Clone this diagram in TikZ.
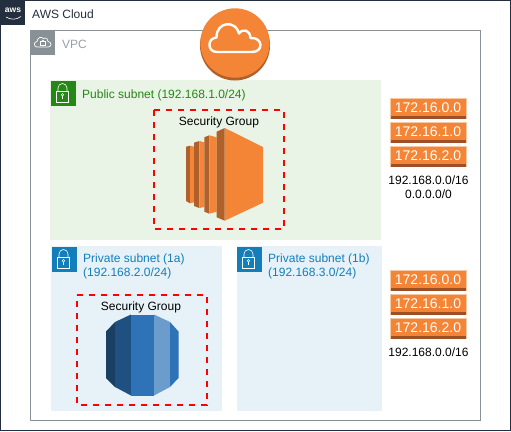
\documentclass[tikz,border=0pt]{standalone}
\usepackage{fontspec}
\setmainfont{Liberation Sans}
\definecolor{awsdark}{HTML}{232F3E}
\definecolor{vpcgrey}{HTML}{879196}
\definecolor{pubgreen}{HTML}{248814}
\definecolor{pubfill}{HTML}{E9F3E6}
\definecolor{privblue}{HTML}{147EBA}
\definecolor{privfill}{HTML}{E6F2F8}
\definecolor{orangeM}{HTML}{F58536}
\definecolor{orangeD}{HTML}{9D5025}
\definecolor{orangeS}{HTML}{B0602A}
\definecolor{orangeB}{HTML}{F8C8A4}
\definecolor{rdsA}{HTML}{1A3F63}
\definecolor{rdsB}{HTML}{205081}
\definecolor{rdsC}{HTML}{2E73B8}
\definecolor{rdsD}{HTML}{6C9CCC}
\tikzset{
  x=1pt,y=-1pt,
  txt/.style={font=\fontsize{12}{14}\selectfont,inner sep=0pt,align=left},
  ctxt/.style={font=\fontsize{12}{14}\selectfont,inner sep=0pt,align=center,text=black},
  sgbox/.style={draw=red,line width=2pt,dash pattern=on 6pt off 6pt},
  iplabel/.style={font=\fontsize{14}{16}\selectfont,text=white,inner sep=0pt},
  lockline/.style={draw=white,line width=0.6pt,fill=none}
}
\newcommand{\iproute}[3]{%
  \fill[orangeB] (389.5,#1-0.5) rectangle (466.5,#1+21);
  \fill[orangeM] (390.5,#1+0.5) rectangle (465.5,#1+18);
  \fill[orangeD] (390.5,#1+18) rectangle (465.5,#1+20.5);
  \node[iplabel] (#2) at (428,#1+9.5) {#3};
}
\newcommand{\lockicon}[2]{%
  \begin{scope}[shift={(#1,#2)}]
    \draw[lockline] (6,22) rectangle (18.5,11);
    \draw[lockline] (8,11) -- (8,8) arc[start angle=180,end angle=0,x radius=4.5,y radius=-4.5] -- (17,11);
    \draw[lockline,line width=0.5pt] (12.5,14.8) circle[radius=1.3];
    \draw[lockline,line width=0.5pt] (12.5,16.1) -- (12.5,18.5);
  \end{scope}}
\begin{document}
\begin{tikzpicture}
\useasboundingbox (0,0) rectangle (511,431);
\fill[white] (0,0) rectangle (511,431);
% AWS cloud frame
\draw[awsdark,line width=1pt] (0.5,0.5) rectangle (510.5,430.5);
\fill[awsdark] (0,0) rectangle (25,25);
\node[font=\fontsize{8.5}{9}\selectfont\bfseries,text=white,inner sep=0pt] (awslogo) at (13,10.5) {aws};
\draw[white,line width=0.6pt] (6,17) .. controls (11,20) and (16,20) .. (21,16.5);
\node[txt,anchor=west,text=awsdark] (cloudlabel) at (32,14) {AWS Cloud};
% VPC
\draw[vpcgrey,line width=1pt] (30.5,30.5) rectangle (480.5,420.5);
\fill[vpcgrey] (30,30) rectangle (55,55);
\draw[white,line width=0.7pt,line join=round] (37,47) .. controls (33.5,47) and (33.5,41.5) .. (37,41.5) .. controls (37.5,37.5) and (41,36) .. (43.5,38.5) .. controls (46,37) and (48.5,39) .. (48,41.5) .. controls (52,42) and (52,47) .. (48,47) -- cycle;
\draw[white,line width=0.6pt] (40.5,41.5) rectangle (45.5,45.5);
\draw[white,line width=0.6pt] (41.5,41.5) arc[start angle=180,end angle=0,x radius=1.5,y radius=-1.5];
\node[txt,anchor=west,text=vpcgrey!85!white] (vpclabel) at (62,44) {VPC};
% Public subnet
\fill[pubfill] (50,80) rectangle (381,240);
\fill[pubgreen] (50.5,80.5) rectangle (75.5,105.5);
\lockicon{50}{80}
\node[txt,anchor=west,text=pubgreen] (publabel) at (82,95) {Public subnet (192.168.1.0/24)};
% Private subnets
\fill[privfill] (51,246) rectangle (221.5,410.5);
\fill[privblue] (51.5,246.5) rectangle (76.5,271.5);
\lockicon{51}{246}
\node[txt,anchor=north west,text=privblue] (priva) at (83,254) {Private subnet (1a)\\(192.168.2.0/24)};
\fill[privfill] (236.5,246) rectangle (381.5,410.5);
\fill[privblue] (236.5,246.5) rectangle (261.5,271.5);
\lockicon{236}{246}
\node[txt,anchor=north west,text=privblue] (privb) at (268,254) {Private subnet (1b)\\(192.168.3.0/24)};
% Internet gateway
\fill[orangeS] (235,45.5) circle[radius=35];
\fill[orangeM] (235,43) circle[radius=34.7];
\draw[white,line width=2.4pt,line join=round] (217,52) .. controls (207,52) and (207,38) .. (216.5,37.5) .. controls (216.5,21) and (236,20) .. (239,33.5) .. controls (243,28) and (250,30) .. (250.5,38) .. controls (263,37) and (264,52) .. (252,52) -- cycle;
% Security group 1
\draw[sgbox] (154,110) -- (284,110) -- (284,229) -- (154,229) -- cycle;
\node[ctxt] (sg1) at (219,122) {Security Group};
% EC2 icon
\fill[orangeS] (186,146.7) -- (190,145.7) -- (190,203.3) -- (186,201) -- cycle;
\fill[orangeM] (190,145.7) -- (194.3,146.7) -- (194.3,202.3) -- (190,203.3) -- cycle;
\fill[orangeS] (194,142.7) -- (199.3,141) -- (199.3,208) -- (194,206) -- cycle;
\fill[orangeM] (199.3,141) -- (204.3,142.3) -- (204.3,207) -- (199.3,208) -- cycle;
\fill[orangeS] (204.3,137.3) -- (209.3,135.3) -- (209.3,213.7) -- (204.3,211.7) -- cycle;
\fill[orangeM] (209.3,135.3) -- (216.7,137.3) -- (216.7,211.7) -- (209.3,213.7) -- cycle;
\fill[orangeM] (224.7,128) -- (263,147) -- (263,202.7) -- (224.7,220.7) -- cycle;
\fill[orangeS] (216.7,131.7) -- (224.7,128) -- (224.7,220.7) -- (216.7,217.3) -- cycle;
% Security group 2
\draw[sgbox] (76.5,295) -- (206.5,295) -- (206.5,405) -- (76.5,405) -- cycle;
\node[ctxt] (sg2) at (141,307.5) {Security Group};
% RDS icon
\fill[rdsA] (106,331.5) -- (115,322) -- (115,387) -- (106,378) -- cycle;
\fill[rdsB] (115,322) -- (131,314.5) -- (131,395.5) -- (115,387) -- cycle;
\fill[rdsC] (131,314.5) -- (154,314.5) -- (154,395.5) -- (131,395.5) -- cycle;
\fill[rdsD] (154,314.5) -- (170,322) -- (170,387) -- (154,395.5) -- cycle;
\fill[rdsC] (170,322) -- (178.5,331.5) -- (178.5,378) -- (170,387) -- cycle;
% Route tables
\iproute{98}{ra}{172.16.0.0}
\iproute{122}{rb}{172.16.1.0}
\iproute{146}{rc}{172.16.2.0}
\node[ctxt] (routes1) at (428.5,187) {192.168.0.0/16\\0.0.0.0/0};
\iproute{270}{rd}{172.16.0.0}
\iproute{294}{re}{172.16.1.0}
\iproute{318}{rf}{172.16.2.0}
\node[ctxt] (routes2) at (428.5,352.5) {192.168.0.0/16};
\end{tikzpicture}
\end{document}
